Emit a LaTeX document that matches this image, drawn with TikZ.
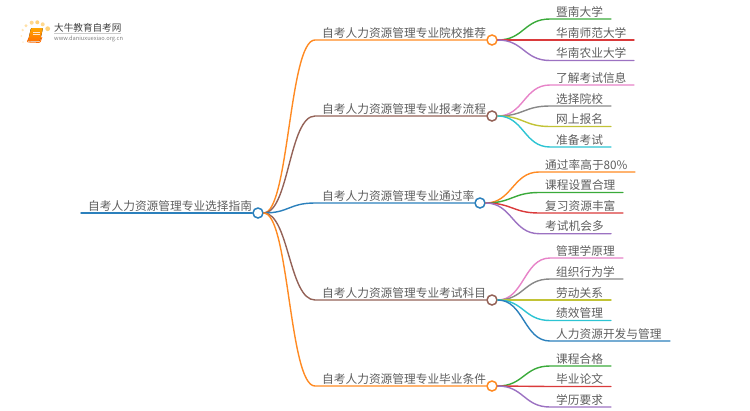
\documentclass[tikz,border=0pt]{standalone}
\usepackage{fontspec}
\setmainfont{Noto Sans CJK SC}
\definecolor{cBlue}{HTML}{2B80BC}
\definecolor{cOrange}{HTML}{FF8A22}
\definecolor{cGreen}{HTML}{3AAA3A}
\definecolor{cRed}{HTML}{DA3A3B}
\definecolor{cPurple}{HTML}{9C72C2}
\definecolor{cBrown}{HTML}{946257}
\definecolor{cPink}{HTML}{E783C8}
\definecolor{cGray}{HTML}{888888}
\definecolor{cOlive}{HTML}{C2C336}
\definecolor{cCyan}{HTML}{2DC4D3}
\definecolor{txt}{HTML}{5E5E5E}
\tikzset{
  label/.style={anchor=west,inner sep=0pt,text=txt,font=\fontsize{11.7}{12}\selectfont},
  hub/.style={circle,draw=#1,fill=white,line width=1.5pt,minimum size=10pt,inner sep=0pt},
  wire/.style={line width=1.4pt,line cap=round}
}
% \branch{name}{colour}{y}{hub x}{text}
\newcommand{\branch}[5]{%
  \node[hub=#2] (#1) at (#4,#3) {};
  \coordinate (#1s) at (315,#3);
  \node[label] (#1t) at (322,#3-7.2) {#5};
  \draw[wire,#2] (root.east) .. controls (289,213) and (289,#3) .. (#1s) -- (#1.west);
}
% \leafnode{name}{hub}{colour}{y}{start x}{end x}{text}
\newcommand{\leafnode}[7]{%
  \coordinate (#1s) at (#5,#4);
  \coordinate (#1e) at (#6,#4);
  \node[label] (#1t) at (#5+6,#4-7.2) {#7};
  \draw[wire,#3] (#2.east) .. controls ($(#2.east)+(26,0)$) and (#5-26,#4) .. (#1s) -- (#1e);
}
\usetikzlibrary{calc}
\begin{document}
\begin{tikzpicture}[x=1pt,y=-1pt]
\useasboundingbox (0,0) rectangle (750,410);
% logo
\foreach \px/\py/\pr/\pc in {47.7/28.7/2.4/FFD27A,42.7/24.3/2/FFD98F,37.3/22.3/2/FFD27A,31.7/22.7/2/FFD98F,26/25.7/1.7/FFE0A6,22.7/30/1.3/FFE6BA,21.3/36/1/FFEBC8,23/42/1/FFF0D8}{
  \definecolor{tmpc}{HTML}{\pc}
  \fill[tmpc] (\px,\py) circle (\pr);
}
\fill[rounded corners=1pt,top color=orange!70!yellow,bottom color=orange!90!red] (31,28) -- (43,28) -- (40,41) -- (28,41) -- cycle;
\draw[orange!85!red,line width=0.8pt,rounded corners=1pt] (29,38) -- (27,42) -- (40,42.5) -- (42,37);
\draw[white!80!orange,line width=0.6pt] (33,32) -- (40,32) (32.5,34.5) -- (39.5,34.5);
\node[inner sep=0pt,anchor=west,text=black!75,font=\fontsize{9.6}{10}\selectfont] (logotitle) at (54,27.5) {大牛教育自考网};
\node[inner sep=0pt,anchor=west,text=black!50,font=\fontsize{5.7}{6}\selectfont] (logourl) at (54,38.5) {www.daniuxuexiao.org.cn};
\draw[black!20,line width=0.4pt] (logotitle.south west) ++(0,1.5) -- ++(67,0);
% root
\node[hub=cBlue] (root) at (258,213) {};
\coordinate (roots) at (81,213);
\node[label] (roott) at (88,205.8) {自考人力资源管理专业选择指南};
\draw[wire,cBlue] (roots) -- (root.west);
% branches
\branch{b1}{cOrange}{40}{492}{自考人力资源管理专业院校推荐}
\branch{b2}{cBrown}{116}{492}{自考人力资源管理专业报考流程}
\branch{b3}{cBlue}{203}{480}{自考人力资源管理专业通过率}
\branch{b4}{cBrown}{300}{492}{自考人力资源管理专业考试科目}
\branch{b5}{cOrange}{386}{492}{自考人力资源管理专业毕业条件}
% leaves
\leafnode{a1}{b1}{cGreen}{19}{550}{611}{暨南大学}
\leafnode{a2}{b1}{cRed}{40}{550}{634}{华南师范大学}
\leafnode{a3}{b1}{cPurple}{60.5}{550}{634}{华南农业大学}
\leafnode{c1}{b2}{cPink}{85}{550}{634}{了解考试信息}
\leafnode{c2}{b2}{cGray}{106}{550}{611}{选择院校}
\leafnode{c3}{b2}{cOlive}{126.5}{550}{611}{网上报名}
\leafnode{c4}{b2}{cCyan}{147}{550}{611}{准备考试}
\leafnode{d1}{b3}{cOrange}{172}{539}{635}{通过率高于80\%}
\leafnode{d2}{b3}{cGreen}{192.5}{539}{623}{课程设置合理}
\leafnode{d3}{b3}{cRed}{213}{539}{623}{复习资源丰富}
\leafnode{d4}{b3}{cPurple}{233.7}{539}{611}{考试机会多}
\leafnode{e1}{b4}{cPink}{258}{550}{623}{管理学原理}
\leafnode{e2}{b4}{cGray}{279}{550}{623}{组织行为学}
\leafnode{e3}{b4}{cOlive}{300}{550}{611}{劳动关系}
\leafnode{e4}{b4}{cCyan}{320.5}{550}{611}{绩效管理}
\leafnode{e5}{b4}{cBlue}{341}{550}{670}{人力资源开发与管理}
\leafnode{f1}{b5}{cGreen}{366}{550}{611}{课程合格}
\leafnode{f2}{b5}{cRed}{386.5}{550}{611}{毕业论文}
\leafnode{f3}{b5}{cPurple}{407}{550}{611}{学历要求}
\end{tikzpicture}
\end{document}
